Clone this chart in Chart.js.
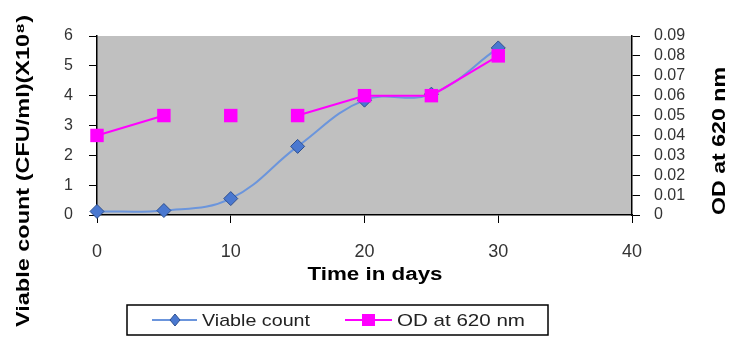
<!DOCTYPE html>
<html>
<head>
<meta charset="utf-8">
<script src="https://cdn.jsdelivr.net/npm/chart.js@4/dist/chart.umd.min.js"></script>
<style>
  body { margin: 0; background: #fff; }
  #wrap { width: 733px; height: 339px; }
</style>
</head>
<body>
<div id="wrap"><canvas id="growthChart" width="733" height="339"></canvas></div>
<script>
const days = [0, 5, 10, 15, 20, 25, 30];
const viableCount = [0.12, 0.15, 0.55, 2.3, 3.85, 4.05, 5.6];
const odAt620 = [0.04, 0.05, 0.05, 0.05, 0.06, 0.06, 0.08];
const odGapStarts = [1, 2]; // segments not joined in the original chart
const xTicks = [0, 10, 20, 30, 40];

const font = '"Liberation Sans", Arial, sans-serif';

// text squeezed/stretched to a given width (the scanned original is wide)
function fitText(ctx, text, x, y, width, rotate) {
  ctx.save();
  ctx.translate(x, y);
  if (rotate) ctx.rotate(-Math.PI / 2);
  const w = ctx.measureText(text).width;
  ctx.scale(width / w, 1);
  ctx.fillText(text, 0, 0);
  ctx.restore();
}

// grey plot area like the Excel original
const plotBackground = {
  id: 'plotBackground',
  beforeDraw(chart) {
    const a = chart.chartArea;
    const ctx = chart.ctx;
    ctx.save();
    ctx.fillStyle = '#c0c0c0';
    ctx.fillRect(a.left, a.top, a.right - a.left, a.bottom - a.top);
    ctx.restore();
  }
};

// axis titles + boxed legend
const extras = {
  id: 'extras',
  afterDraw(chart) {
    const ctx = chart.ctx;
    ctx.save();
    ctx.fillStyle = '#000';
    ctx.font = 'bold 19px ' + font;
    ctx.textAlign = 'center';
    ctx.textBaseline = 'middle';
    fitText(ctx, 'Viable count (CFU/ml)(X10\u2078)', 24, 171, 312, true);
    fitText(ctx, 'OD at 620 nm', 720, 141, 148, true);
    ctx.font = 'bold 18px ' + font;
    fitText(ctx, 'Time in days', 375, 275, 135, false);

    // legend box
    ctx.strokeStyle = '#000';
    ctx.lineWidth = 1.5;
    ctx.strokeRect(127, 305, 421, 30);

    const y = 320;
    const ds = chart.data.datasets;
    // viable count entry
    ctx.strokeStyle = ds[0].borderColor;
    ctx.lineWidth = 2;
    ctx.beginPath(); ctx.moveTo(152, y); ctx.lineTo(197, y); ctx.stroke();
    ctx.fillStyle = ds[0].pointBackgroundColor;
    ctx.strokeStyle = ds[0].pointBorderColor;
    ctx.lineWidth = 1;
    ctx.beginPath();
    ctx.moveTo(175, y - 6); ctx.lineTo(180, y); ctx.lineTo(175, y + 6); ctx.lineTo(170, y);
    ctx.closePath(); ctx.fill(); ctx.stroke();
    // OD entry
    ctx.strokeStyle = ds[1].borderColor;
    ctx.lineWidth = 2;
    ctx.beginPath(); ctx.moveTo(345, y); ctx.lineTo(392, y); ctx.stroke();
    ctx.fillStyle = ds[1].pointBackgroundColor;
    ctx.fillRect(362, y - 6, 13, 12);

    ctx.fillStyle = '#222';
    ctx.font = '17px ' + font;
    ctx.textAlign = 'left';
    fitText(ctx, ds[0].label, 202, y + 1, 108, false);
    fitText(ctx, ds[1].label, 397, y + 1, 128, false);
    ctx.restore();
  }
};

new Chart(document.getElementById('growthChart'), {
  type: 'line',
  data: {
    labels: days,
    datasets: [
      {
        label: 'Viable count',
        data: days.map((d, i) => ({ x: d, y: viableCount[i] })),
        yAxisID: 'y',
        borderColor: '#6b95dc',
        borderWidth: 2,
        tension: 0.4,
        pointStyle: 'rectRot',
        pointRadius: 7,
        pointBackgroundColor: '#4a78d0',
        pointBorderColor: '#2d4f8f',
        pointBorderWidth: 1,
        clip: false,
        order: 1
      },
      {
        label: 'OD at 620 nm',
        data: days.map((d, i) => ({ x: d, y: odAt620[i] })),
        yAxisID: 'y1',
        borderColor: '#ff00ff',
        borderWidth: 2,
        tension: 0,
        pointStyle: 'rect',
        pointRadius: 9.5,
        pointBackgroundColor: '#ff00ff',
        pointBorderColor: '#ff00ff',
        pointBorderWidth: 0,
        clip: false,
        order: 0,
        segment: {
          borderColor: ctx => odGapStarts.includes(ctx.p0DataIndex) ? 'rgba(0,0,0,0)' : undefined
        }
      }
    ]
  },
  options: {
    responsive: false,
    animation: false,
    layout: { padding: { top: 36, bottom: 54, left: 0, right: 0 } },
    plugins: {
      legend: { display: false },
      tooltip: { enabled: false }
    },
    scales: {
      x: {
        type: 'linear',
        min: 0,
        max: 40,
        afterBuildTicks: scale => { scale.ticks = xTicks.map(v => ({ value: v })); },
        afterFit: scale => { scale.height = 70; },
        border: { color: '#000', width: 1.5 },
        grid: { drawOnChartArea: false, color: '#000', tickLength: 8 },
        ticks: { color: '#333', font: { family: font, size: 18 }, padding: 18, autoSkip: false }
      },
      y: {
        position: 'left',
        min: 0,
        max: 6,
        afterFit: scale => { scale.width = 97; },
        border: { color: '#000', width: 1.5 },
        grid: { drawOnChartArea: false, color: '#000', tickLength: 8 },
        ticks: { stepSize: 1, color: '#333', font: { family: font, size: 16 }, padding: 16, autoSkip: false }
      },
      y1: {
        position: 'right',
        min: 0,
        max: 0.09,
        afterFit: scale => { scale.width = 101; },
        border: { color: '#000', width: 1.5 },
        grid: { drawOnChartArea: false, color: '#000', tickLength: 8 },
        ticks: {
          stepSize: 0.01,
          autoSkip: false,
          color: '#333',
          font: { family: font, size: 16, lineHeight: 1 },
          padding: 14,
          callback: v => v === 0 ? '0' : v.toFixed(2)
        }
      }
    }
  },
  plugins: [plotBackground, extras]
});
</script>
</body>
</html>
